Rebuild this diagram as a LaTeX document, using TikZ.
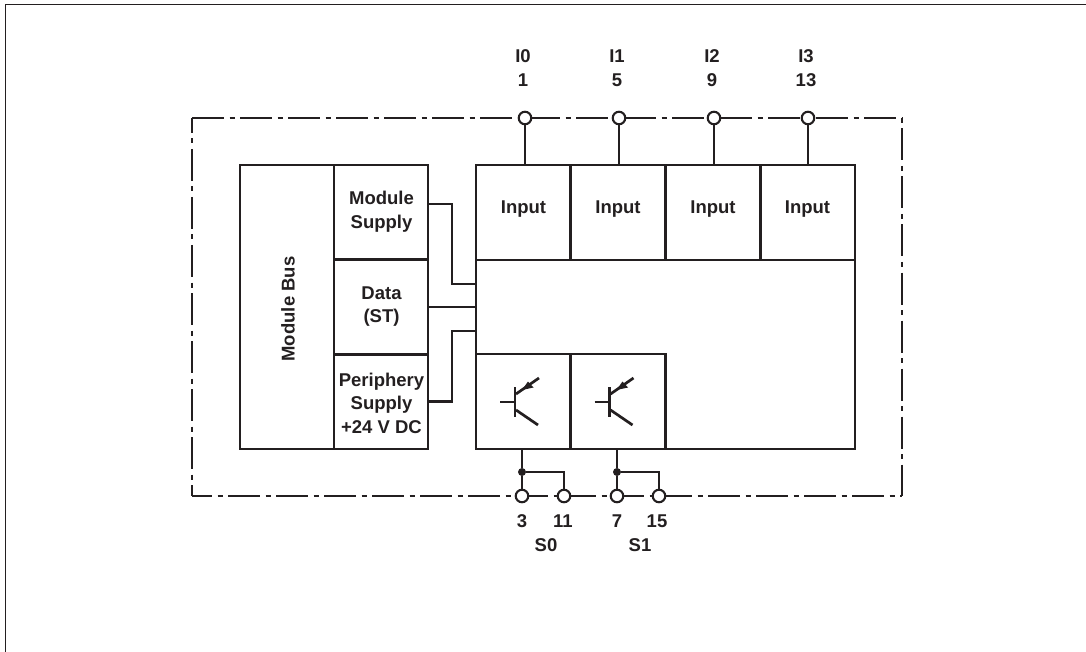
\documentclass[tikz,border=0pt]{standalone}
\usepackage{fontspec}
\setmainfont{Liberation Sans}
\usetikzlibrary{calc, positioning}
\definecolor{ink}{HTML}{231F20}
\tikzset{
  unit/.style={draw=ink,line width=2.9pt,minimum width=95pt,minimum height=95pt,inner sep=0pt},
  txt/.style={inner sep=0pt,align=center,font=\fontsize{18.5}{23.5}\bfseries,text=ink},
  pin/.style={circle,draw=ink,fill=white,line width=2.1pt,minimum size=12.5pt,inner sep=0pt},
  wire/.style={draw=ink,line width=2.7pt},
  stem/.style={draw=ink,line width=2.2pt},
  junct/.style={circle,fill=ink,inner sep=0pt,minimum size=8pt},
  fence/.style={draw=ink,line width=2.8pt,dash pattern=on 32pt off 5.5pt on 5pt off 5.5pt}
}
\begin{document}
\begin{tikzpicture}[x=1pt,y=-1pt,>=stealth]
  \useasboundingbox (0,0) rectangle (1086,652);
  % sheet outline
  \draw[ink,line width=1.5pt] (5.5,652) -- (5.5,4.5) -- (1086,4.5);
  % dash-dot enclosure
  \coordinate (NW) at (192,118);
  \coordinate (NE) at (902,118);
  \coordinate (SE) at (902,496);
  \coordinate (SW) at (192,496);
  \draw[fence] (NW) -- (NE);
  \draw[fence,dash phase=37.5pt] (NE) -- (SE);
  \draw[fence,dash phase=12pt] (SW) -- (SE);
  \draw[fence,dash phase=17pt] (NW) -- (SW);
  % bus side
  \node[unit,minimum width=94pt,minimum height=284pt] (bus) at (287,307) {};
  \node[txt,rotate=90] (busT) at (288,309) {Module Bus};
  \node[unit,minimum width=94pt] (sup) at (381,212.5) {};
  \node[unit,minimum width=94pt] (data) at (381,307) {};
  \node[unit,minimum width=94pt] (peri) at (381,401.5) {};
  \node[txt] (supT) at (381.5,211.5) {Module\\Supply};
  \node[txt] (dataT) at (381.5,306.5) {Data\\(ST)};
  \node[txt] (periT) at (381.5,403) {Periphery\\Supply\\+24 V DC};
  % central block
  \node[unit,minimum width=379pt,minimum height=189pt] (core) at (665.5,354.5) {};
  % input row
  \foreach \n/\x in {0/523.5,1/618,2/713,3/807.5}{
    \node[unit] (in\n) at (\x,212.5) {};
    \node[txt] (inT\n) at (\x,209) {Input};
  }
  % output row
  \node[unit] (out0) at (523.5,401.5) {};
  \node[unit] (out1) at (618,401.5) {};
  % links between supply side and block
  \coordinate (a0) at (476,284);
  \coordinate (a1) at (476,307);
  \coordinate (a2) at (476,331);
  \draw[wire] (sup.east |- 0,204) -- (452,204) -- (452,284) -- (a0);
  \draw[wire] (data.east) -- (a1);
  \draw[wire] (peri.east) -- (452,401.5) -- (452,331) -- (a2);
  % input pins
  \foreach \n/\x/\a/\b in {0/525/I0/1,1/619/I1/5,2/714/I2/9,3/808/I3/13}{
    \node[pin] (p\n) at (\x,118) {};
    \draw[stem] (p\n) -- (\x,165);
    \node[txt] (lab\n) at (\x-2,68) {\a\\\b};
  }
  % transistors
  \foreach \n/\x in {0/0,1/94.5}{
    \begin{scope}[xshift=\x pt]
      \draw[wire] (500,402) -- (515,402);
      \draw[wire] (515,387) -- (515,417);
      \draw[wire] (516,410) -- (538,425);
      \draw[wire] (516,394) -- (539,378);
      \fill[ink] (522,390) -- (528,381.5) -- (533.5,387.5) -- cycle;
    \end{scope}
  }
  % output pins
  \node[pin] (q0) at (522,496) {};
  \node[pin] (q1) at (564,496) {};
  \node[pin] (q2) at (617,496) {};
  \node[pin] (q3) at (659,496) {};
  \node[junct] (j0) at (522,472) {};
  \node[junct] (j1) at (617,472) {};
  \draw[wire] (522,449) -- (j0) -- (q0);
  \draw[wire] (617,449) -- (j1) -- (q2);
  \draw[ink,line width=2pt] (j0) -- (564,472) -- (q1);
  \draw[ink,line width=2pt] (j1) -- (659,472) -- (q3);
  % output labels
  \node[txt] (t3) at (522,521) {3};
  \node[txt] (t11) at (563,521) {11};
  \node[txt] (t7) at (617,521) {7};
  \node[txt] (t15) at (657,521) {15};
  \node[txt] (s0) at (546,545) {S0};
  \node[txt] (s1) at (640,545) {S1};
\end{tikzpicture}
\end{document}
